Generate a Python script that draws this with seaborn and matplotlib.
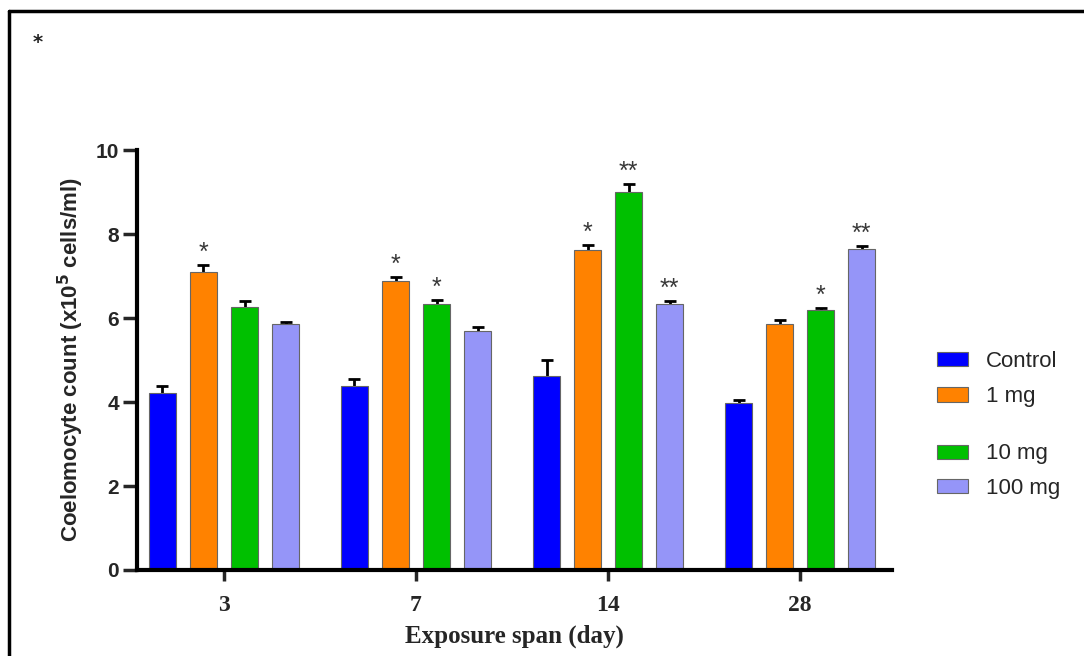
"""Coelomocyte count by exposure span, grouped bars with SEM and significance marks"""

import numpy as np
import pandas as pd
import matplotlib
matplotlib.use("Agg")
import matplotlib.pyplot as plt
from matplotlib.lines import Line2D
from matplotlib.patches import Patch
import seaborn as sns

# Data
days = ["3", "7", "14", "28"]
groups = ["Control", "1 mg", "10 mg", "100 mg"]

control = [4.21, 4.37, 4.63, 3.97]
mg1 = [7.10, 6.89, 7.61, 5.86]
mg10 = [6.27, 6.33, 8.99, 6.20]
mg100 = [5.85, 5.70, 6.33, 7.64]

control_err = [0.17, 0.17, 0.38, 0.07]
mg1_err = [0.16, 0.08, 0.14, 0.10]
mg10_err = [0.13, 0.09, 0.20, 0.04]
mg100_err = [0.05, 0.09, 0.07, 0.08]

control_sig = ["", "", "", ""]
mg1_sig = ["*", "*", "*", ""]
mg10_sig = ["", "*", "**", "*"]
mg100_sig = ["", "", "**", "**"]

colors = {"Control": "#0000FF", "1 mg": "#FF8200", "10 mg": "#00C000", "100 mg": "#9595F8"}

values = [control, mg1, mg10, mg100]
errors = [control_err, mg1_err, mg10_err, mg100_err]
sigs = [control_sig, mg1_sig, mg10_sig, mg100_sig]

df = pd.DataFrame({
    "day": np.tile(days, len(groups)),
    "group": np.repeat(groups, len(days)),
    "value": np.concatenate(values),
})

sns.set_style("white")
plt.rcParams["font.family"] = ["Liberation Sans", "DejaVu Sans"]

fig = plt.figure(figsize=(10.84, 6.56), dpi=100)
ax = fig.add_axes([0.1264, 0.1311, 0.6966, 0.6402])

sns.barplot(data=df, x="day", y="value", hue="group", order=days, hue_order=groups,
            palette=colors, saturation=1, width=0.855, gap=0.34, errorbar=None,
            edgecolor="#666666", linewidth=0.8, ax=ax)

# error bars (lower half hidden behind the bar) and stars
for cont, err, sig in zip(ax.containers, errors, sigs):
    for bar, e, s in zip(cont, err, sig):
        x = bar.get_x() + bar.get_width() / 2
        h = bar.get_height()
        ax.errorbar(x, h, yerr=e, fmt="none", ecolor="black",
                    elinewidth=2, capsize=4.3, capthick=2, zorder=0.5)
        if s:
            ax.text(x, h + e + 0.12, s, ha="center", va="baseline",
                    fontsize=18, color="#383838")

ax.set_xlim(-0.453, 3.479)
ax.set_ylim(0, 10)
ax.set_yticks(range(0, 11, 2))

for side in ["top", "right"]:
    ax.spines[side].set_visible(False)
for side in ["left", "bottom"]:
    ax.spines[side].set_linewidth(3)
    ax.spines[side].set_color("black")

ax.tick_params(axis="y", direction="out", length=10, width=2.5, labelsize=15, left=True, pad=3)
ax.tick_params(axis="x", direction="out", length=8, width=2.5, bottom=True, pad=10)
for t in ax.get_yticklabels():
    t.set_fontweight("bold")
for t in ax.get_xticklabels():
    t.set_fontfamily("Liberation Serif")
    t.set_fontweight("bold")
    t.set_fontsize(17)

ax.set_ylabel("Coelomocyte count (x10$^{\\mathbf{5}}$ cells/ml)", fontsize=16,
              fontweight="bold", labelpad=7)
ax.set_xlabel("Exposure span (day)", fontfamily="Liberation Serif", fontsize=18,
              fontweight="bold", labelpad=6)

# legend in two blocks, as in the original
ax.get_legend().remove()
handles = [Patch(facecolor=colors[g], edgecolor="#666666", linewidth=0.8) for g in groups]
leg_kw = dict(loc="upper left", frameon=False, fontsize=16, handlelength=1.4,
              handleheight=0.6, handletextpad=0.8, borderpad=0)
leg1 = fig.legend(handles[:2], groups[:2], bbox_to_anchor=(0.854, 0.482),
                  labelspacing=0.65, **leg_kw)
leg2 = fig.legend(handles[2:], groups[2:], bbox_to_anchor=(0.854, 0.341),
                  labelspacing=0.6, **leg_kw)

# corner mark and page frame
fig.text(0.035, 0.927, "*", fontsize=14, color="#222222", fontweight="bold",
         fontfamily="DejaVu Sans", ha="center", va="baseline")
fig.add_artist(Line2D([0.0083, 1.0], [0.983, 0.983], color="black", linewidth=2.5))
fig.add_artist(Line2D([0.0083, 0.0083], [0.0, 0.983], color="black", linewidth=2.5))

fig.savefig("out.png", dpi=100)
